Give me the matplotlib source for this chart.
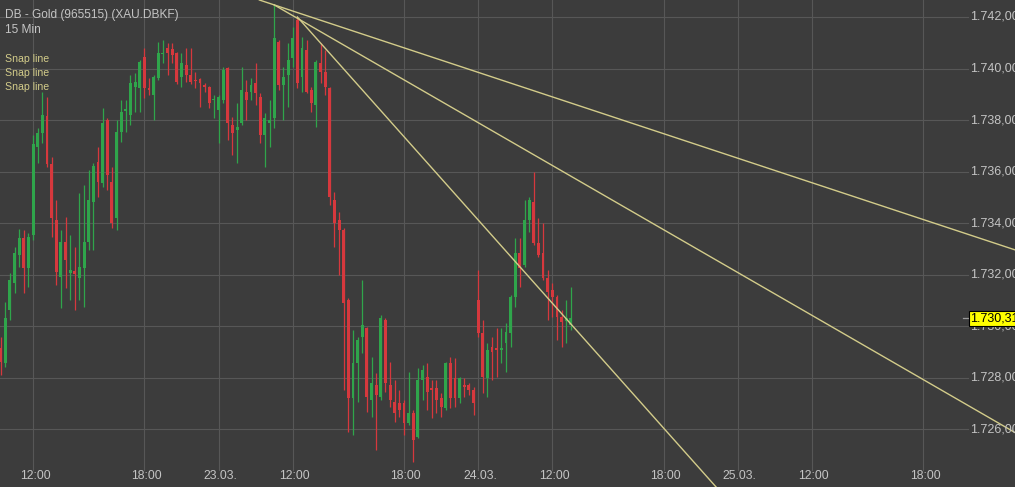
import matplotlib.pyplot as plt
import numpy as np
from matplotlib import transforms

# DB - Gold 15 min candles, index 0 = 22.03. 12:00 (session 08:00-22:00, no gaps)
idx = np.arange(-7, 117)

opens = [1729.16, 1728.58, 1730.63, 1731.68, 1732.77, 1733.43, 1732.26,
         1733.54, 1736.96, 1737.50, 1738.16, 1736.30, 1734.12, 1731.91, 1733.27, 1732.07, 1732.15,
         1731.87, 1732.26, 1733.27, 1734.82, 1736.37, 1735.56, 1738.00, 1735.60, 1734.20, 1737.54,
         1738.35, 1738.20, 1739.28, 1739.25, 1740.45, 1739.25, 1738.97, 1739.63, 1740.56, 1740.80,
         1740.76, 1740.60, 1739.67, 1740.14, 1739.75, 1739.56, 1739.59, 1739.36, 1739.28, 1738.78,
         1738.39, 1738.78, 1740.02, 1737.81, 1737.62, 1737.89, 1739.09, 1739.09, 1739.44, 1738.90,
         1737.42, 1737.89, 1738.08, 1741.03, 1739.36, 1739.75, 1740.41, 1741.88, 1739.67, 1740.72,
         1739.17, 1738.59, 1740.22, 1739.87, 1739.25, 1734.90, 1734.12, 1733.74, 1731.02, 1727.22,
         1728.58, 1729.58, 1729.93, 1727.14, 1727.72, 1727.26, 1730.24, 1727.72, 1727.06, 1727.02,
         1727.02, 1726.25, 1726.64, 1725.70, 1727.92, 1728.03, 1727.61, 1727.61, 1727.22, 1726.83,
         1728.58, 1727.99, 1727.22, 1727.72, 1727.72, 1727.53, 1731.02, 1729.74, 1727.99, 1729.20,
         1729.16, 1729.08, 1729.35, 1729.74, 1731.14, 1732.84, 1732.38, 1734.12, 1734.82, 1733.23,
         1732.84, 1731.87, 1731.41, 1731.14, 1730.36, 1730.21, 1730.05]

highs = [1729.58, 1730.94, 1732.07, 1733.08, 1733.77, 1733.74, 1733.62,
         1737.42, 1737.69, 1739.09, 1738.90, 1736.57, 1734.90, 1733.74, 1734.24, 1733.54, 1733.08,
         1735.17, 1735.48, 1736.06, 1736.34, 1736.96, 1738.47, 1738.08, 1736.18, 1738.00, 1738.78,
         1738.78, 1739.75, 1739.83, 1740.33, 1740.80, 1739.63, 1739.75, 1741.03, 1741.11, 1740.99,
         1740.99, 1740.64, 1740.60, 1740.80, 1740.80, 1739.87, 1739.63, 1739.44, 1739.32, 1738.97,
         1738.97, 1740.06, 1740.06, 1738.12, 1738.66, 1740.06, 1739.56, 1739.63, 1740.22, 1739.05,
         1738.28, 1738.78, 1742.47, 1741.11, 1740.06, 1740.99, 1741.61, 1742.00, 1741.22, 1741.11,
         1739.28, 1740.33, 1740.99, 1740.72, 1739.28, 1735.21, 1734.43, 1733.81, 1731.10, 1729.86,
         1729.58, 1731.80, 1729.97, 1728.81, 1728.19, 1730.44, 1730.32, 1728.61, 1727.92, 1727.53,
         1727.14, 1728.23, 1726.75, 1728.38, 1728.50, 1728.58, 1727.92, 1727.92, 1727.41, 1728.61,
         1728.81, 1728.77, 1728.03, 1727.99, 1727.80, 1727.64, 1732.18, 1730.24, 1729.35, 1729.58,
         1729.93, 1729.93, 1730.13, 1731.21, 1733.43, 1733.43, 1734.90, 1735.02, 1735.99, 1734.20,
         1734.01, 1732.18, 1731.68, 1731.21, 1730.63, 1731.02, 1731.52]

lows = [1728.11, 1728.42, 1730.24, 1731.29, 1732.30, 1731.29, 1731.52,
        1733.35, 1736.34, 1737.11, 1736.18, 1733.46, 1731.60, 1730.71, 1731.49, 1731.02, 1730.63,
        1731.02, 1730.75, 1732.96, 1732.96, 1735.02, 1735.40, 1735.29, 1733.81, 1733.74, 1737.15,
        1737.54, 1737.81, 1738.31, 1738.31, 1738.86, 1738.97, 1738.00, 1739.56, 1740.22, 1739.75,
        1740.22, 1739.40, 1739.28, 1739.48, 1739.40, 1739.25, 1738.51, 1739.09, 1738.47, 1738.08,
        1737.11, 1738.66, 1737.23, 1736.65, 1736.34, 1737.81, 1738.00, 1738.78, 1738.59, 1737.11,
        1736.18, 1736.96, 1737.69, 1739.17, 1738.00, 1738.51, 1740.06, 1739.25, 1739.09, 1739.05,
        1738.31, 1737.73, 1739.44, 1738.97, 1734.71, 1733.08, 1731.99, 1727.53, 1725.90, 1725.78,
        1727.06, 1728.96, 1726.67, 1726.48, 1725.20, 1727.14, 1727.45, 1726.87, 1726.29, 1726.48,
        1725.78, 1726.16, 1724.73, 1725.66, 1727.14, 1726.75, 1726.44, 1726.64, 1726.48, 1726.75,
        1726.83, 1726.87, 1727.02, 1727.26, 1727.33, 1726.56, 1729.58, 1727.41, 1727.26, 1727.92,
        1728.03, 1728.58, 1728.23, 1729.20, 1730.75, 1731.52, 1732.30, 1733.66, 1733.15, 1732.69,
        1731.80, 1730.24, 1730.36, 1729.47, 1729.20, 1729.35, 1729.86]

closes = [1728.61, 1730.32, 1731.80, 1732.84, 1733.43, 1732.26, 1733.46,
          1737.07, 1737.50, 1738.20, 1736.30, 1734.20, 1732.11, 1733.27, 1732.57, 1732.18, 1732.03,
          1732.30, 1733.27, 1734.90, 1736.22, 1735.60, 1737.89, 1735.87, 1734.01, 1737.54, 1738.31,
          1738.43, 1739.44, 1739.48, 1740.25, 1739.25, 1739.17, 1739.67, 1740.60, 1740.60, 1740.60,
          1740.53, 1739.48, 1740.22, 1739.75, 1739.48, 1739.52, 1739.44, 1739.28, 1738.66, 1738.82,
          1738.90, 1739.94, 1737.89, 1737.50, 1737.73, 1739.17, 1738.78, 1739.36, 1739.05, 1737.42,
          1738.08, 1738.00, 1741.19, 1739.36, 1739.67, 1740.33, 1741.19, 1739.44, 1740.80, 1739.09,
          1738.66, 1740.25, 1739.87, 1739.28, 1735.02, 1734.01, 1733.74, 1730.90, 1727.22, 1728.58,
          1729.47, 1730.05, 1727.26, 1727.80, 1727.33, 1730.32, 1727.80, 1727.14, 1726.64, 1726.75,
          1726.25, 1726.64, 1725.58, 1727.92, 1728.30, 1727.45, 1727.53, 1727.14, 1726.87, 1728.58,
          1727.22, 1727.22, 1727.99, 1727.64, 1727.53, 1727.02, 1729.74, 1728.03, 1729.08, 1729.00,
          1729.08, 1729.16, 1729.78, 1731.14, 1732.84, 1732.26, 1734.12, 1734.90, 1733.23, 1732.77,
          1731.87, 1731.33, 1731.14, 1730.36, 1730.17, 1730.32, 1730.31]

xtick_pos = [0, 24, 40, 56, 80, 96, 112, 136, 152, 168, 192]
xtick_lbl = ["12:00", "18:00", "23.03.", "12:00", "18:00", "24.03.",
             "12:00", "18:00", "25.03.", "12:00", "18:00"]
ytick_vals = [1726, 1728, 1730, 1732, 1734, 1736, 1738, 1740, 1742]
last_price = 1730.31

# snap lines, two anchor points each (candle index, price)
snap_lines = [
    [(52, 1742.47), (200, 1733.66)],
    [(52, 1742.47), (200, 1727.09)],
    [(57, 1742.00), (140, 1725.23)],
]
snap_both_ways = [True, False, False]

bg = "#3c3c3c"
grid_col = "#575757"
txt_col = "#c4c4c4"
snap_col = "#d3cc8a"
up_col = "#2fa54b"
down_col = "#d6383d"

plt.rcParams['font.family'] = ['Liberation Sans', 'DejaVu Sans']


def de_fmt(v):
    s = "{:,.2f}".format(v)
    return s.replace(",", "X").replace(".", ",").replace("X", ".")


fig = plt.figure(figsize=(10.15, 4.87), dpi=100)
fig.patch.set_facecolor(bg)
ax = fig.add_axes([0, 0, 1, 1])
ax.set_facecolor(bg)
ax.set_xlim(-7.14, 211.8)
ax.set_ylim(1723.75, 1742.66)
for s in ax.spines.values():
    s.set_visible(False)
ax.set_xticks([])
ax.set_yticks([])

# grid
for v in ytick_vals:
    ax.axhline(v, xmin=0, xmax=0.9537, color=grid_col, lw=0.8, zorder=0)
for t in xtick_pos:
    ax.axvline(t, ymin=17 / 487, ymax=1, color=grid_col, lw=0.8, zorder=0)

# candles
o = np.array(opens)
c = np.array(closes)
cols = [up_col if cc >= oo else down_col for oo, cc in zip(o, c)]
ax.vlines(idx, lows, highs, colors=cols, lw=0.9, zorder=2)
body = np.maximum(np.abs(c - o), 0.05)
ax.bar(idx, body, bottom=np.minimum(o, c), width=0.62, color=cols, linewidth=0, zorder=3)

# snap lines (rays start at the first anchor unless drawn both ways)
for (p1, p2), both in zip(snap_lines, snap_both_ways):
    if both:
        ax.axline(p1, p2, color=snap_col, lw=1.0, zorder=4)
    else:
        k = 20
        ax.plot([p1[0], p1[0] + (p2[0] - p1[0]) * k], [p1[1], p1[1] + (p2[1] - p1[1]) * k],
                color=snap_col, lw=1.0, zorder=4)

# axis labels
ty = transforms.blended_transform_factory(ax.transAxes, ax.transData)
for v in ytick_vals:
    ax.text(0.9557, v, de_fmt(v), transform=ty, ha='left', va='center',
            fontsize=9, color=txt_col, zorder=5)
tx = transforms.blended_transform_factory(ax.transData, ax.transAxes)
for t, lbl in zip(xtick_pos, xtick_lbl):
    ax.text(t + 0.4, 0.0226, lbl, transform=tx, ha='center', va='center',
            fontsize=8.8, color=txt_col, zorder=5)

# last price tag
ax.axhline(last_price, xmin=0.949, xmax=0.9545, color="#9a9a9a", lw=0.9, zorder=5)
ax.text(0.9557, last_price, de_fmt(last_price), transform=ty, ha='left', va='center',
        fontsize=9, color='black', zorder=6,
        bbox=dict(boxstyle='square,pad=0.12', facecolor='#ffff00', edgecolor='black', lw=0.8))

# header texts
ax.text(0.0049, 1 - 15 / 487, "DB - Gold (965515) (XAU.DBKF)", transform=ax.transAxes,
        fontsize=8.6, color=txt_col, va='center', ha='left', zorder=6)
ax.text(0.0049, 1 - 30 / 487, "15 Min", transform=ax.transAxes,
        fontsize=8.6, color=txt_col, va='center', ha='left', zorder=6)
for k in range(len(snap_lines)):
    ax.text(0.0049, 1 - (59 + 14 * k) / 487, "Snap line", transform=ax.transAxes,
            fontsize=7.6, color=snap_col, va='center', ha='left', zorder=6)

fig.savefig("out.png", dpi=100, facecolor=bg)
